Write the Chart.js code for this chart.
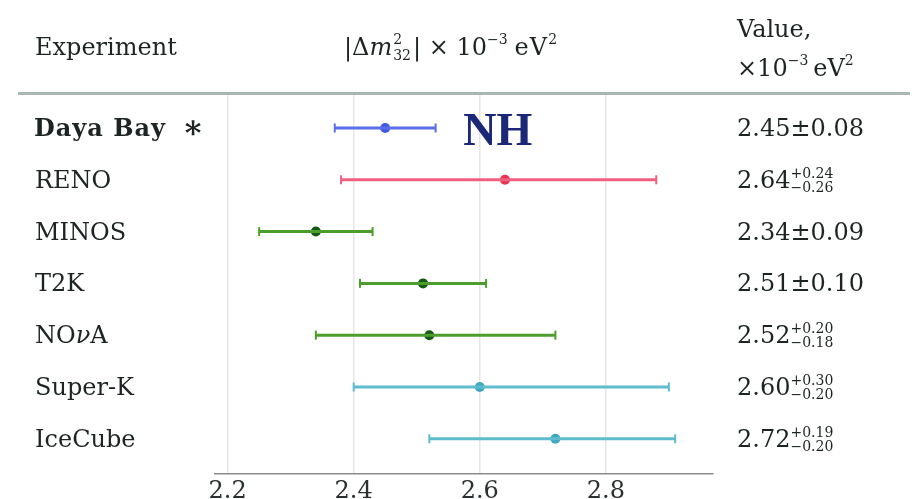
<!DOCTYPE html>
<html>
<head>
<meta charset="utf-8">
<script src="https://cdn.jsdelivr.net/npm/chart.js@4.4.1/dist/chart.umd.min.js"></script>
<style>
  html, body { margin: 0; padding: 0; background: #ffffff; }
  #wrap { width: 915px; height: 499px; position: relative; }
</style>
</head>
<body>
<div id="wrap"><canvas id="c" width="915" height="499"></canvas></div>
<script>
// Measurements of |Δm²32| (×10⁻³ eV²)
const experiments = ['Daya Bay', 'RENO', 'MINOS', 'T2K', 'NOνA', 'Super-K', 'IceCube'];
const central  = [2.45, 2.64, 2.34, 2.51, 2.52, 2.60, 2.72];
const errPlus  = [0.08, 0.24, 0.09, 0.10, 0.20, 0.30, 0.19];
const errMinus = [0.08, 0.26, 0.09, 0.10, 0.18, 0.20, 0.20];
const symmetric = [true, false, true, true, false, false, false];
const xTicks = [2.2, 2.4, 2.6, 2.8];

const lineColors = ['#5a6ee8', '#ef5f80', '#4c9e2c', '#4c9e2c', '#4c9e2c', '#5fbccc', '#5fbccc'];
const dotColors  = ['#3f58e4', '#e8344f', '#135a12', '#135a12', '#135a12', '#3fa7bf', '#3fa7bf'];

const SERIF = '"DejaVu Serif", "Liberation Serif", serif';
const TEXT = '#1e2424';

// one dataset per error bar: a segment from low to high with vertical caps
const barSets = experiments.map((name, i) => ({
  type: 'scatter',
  label: name,
  data: [{ x: central[i] - errMinus[i], y: i }, { x: central[i] + errPlus[i], y: i }],
  showLine: true,
  borderColor: lineColors[i],
  borderWidth: 3,
  pointStyle: 'line',
  rotation: 90,
  pointRadius: 4.5,
  pointBorderWidth: 2,
  pointBorderColor: lineColors[i],
  pointBackgroundColor: lineColors[i]
}));

const centreSet = {
  type: 'scatter',
  label: 'central',
  data: central.map((v, i) => ({ x: v, y: i })),
  pointRadius: 5,
  pointBorderWidth: 0,
  pointBackgroundColor: dotColors,
  pointBorderColor: dotColors
};

function fmt(v) { return v.toFixed(2); }

// draws a list of text runs left to right; each run may carry its own font and vertical shift
function drawRuns(ctx, x, y, runs) {
  let cx = x;
  for (const r of runs) {
    ctx.letterSpacing = r.spacing || '0px';
    ctx.font = r.font;
    if (r.stack) {
      const w1 = ctx.measureText(r.sup).width;
      const w2 = ctx.measureText(r.sub).width;
      ctx.fillText(r.sup, cx, y + r.supDy);
      ctx.fillText(r.sub, cx, y + r.subDy);
      cx += Math.max(w1, w2) + (r.gap || 0);
    } else {
      ctx.fillText(r.t, cx, y + (r.dy || 0));
      cx += ctx.measureText(r.t).width + (r.gap || 0);
    }
  }
  ctx.letterSpacing = '0px';
  return cx;
}

const tablePlugin = {
  id: 'table',
  afterDraw(chart) {
    const ctx = chart.ctx;
    const xs = chart.scales.x, ys = chart.scales.y;
    ctx.save();
    ctx.fillStyle = TEXT;
    ctx.textBaseline = 'alphabetic';
    ctx.textAlign = 'left';

    const big = '24px ' + SERIF;
    const small = '14px ' + SERIF;
    const italic = 'italic 24px ' + SERIF;

    // header
    drawRuns(ctx, 35, 55, [{ t: 'Experiment', font: big }]);
    drawRuns(ctx, 344, 55, [
      { t: '|Δ', font: big },
      { t: 'm', font: italic, gap: 1 },
      { stack: true, font: small, sup: '2', sub: '32', supDy: -11, subDy: 5, gap: 2 },
      { t: '| × 10', font: big },
      { t: '−3', font: small, dy: -11, gap: 7 },
      { t: 'eV', font: big, spacing: '1px' },
      { t: '2', font: small, dy: -11 }
    ]);
    drawRuns(ctx, 737, 37, [{ t: 'Value,', font: big }]);
    drawRuns(ctx, 737, 76, [
      { t: '×10', font: big },
      { t: '−3', font: small, dy: -11, gap: 5 },
      { t: 'eV', font: big },
      { t: '2', font: small, dy: -11 }
    ]);

    // header rule
    ctx.strokeStyle = '#a9b6b2';
    ctx.lineWidth = 3;
    ctx.beginPath();
    ctx.moveTo(18, 93.5);
    ctx.lineTo(910, 93.5);
    ctx.stroke();

    // rows: experiment names and quoted values
    experiments.forEach((name, i) => {
      const y = ys.getPixelForValue(i);
      const base = y + 8;
      ctx.fillStyle = TEXT;
      if (i === 0) {
        const end = drawRuns(ctx, 34, base, [{ t: name, font: 'bold 24px ' + SERIF, spacing: '1px' }]);
        drawRuns(ctx, end + 16, base + 2, [{ t: '∗', font: 'bold 32px ' + SERIF }]);
      } else if (name.includes('ν')) {
        const parts = name.split('ν');
        drawRuns(ctx, 35, base, [
          { t: parts[0], font: big },
          { t: 'ν', font: italic },
          { t: parts[1], font: big }
        ]);
      } else {
        drawRuns(ctx, 35, base, [{ t: name, font: big }]);
      }

      if (symmetric[i]) {
        drawRuns(ctx, 737, base, [{ t: fmt(central[i]) + '±' + fmt(errPlus[i]), font: big }]);
      } else {
        drawRuns(ctx, 737, base, [
          { t: fmt(central[i]), font: big },
          { stack: true, font: small, sup: '+' + fmt(errPlus[i]), sub: '−' + fmt(errMinus[i]), supDy: -10, subDy: 4 }
        ]);
      }
    });

    // hierarchy tag next to the first measurement
    ctx.fillStyle = '#1b2777';
    ctx.font = 'bold 46px "Liberation Serif", serif';
    ctx.fillText('NH', xs.getPixelForValue(2.574), ys.getPixelForValue(0) + 17);
    ctx.restore();
  }
};

new Chart(document.getElementById('c'), {
  type: 'scatter',
  data: { datasets: [...barSets, centreSet] },
  options: {
    responsive: false,
    animation: false,
    events: [],
    layout: { padding: { left: 215, right: 202, top: 95, bottom: 0 } },
    plugins: { legend: { display: false }, tooltip: { enabled: false } },
    scales: {
      x: {
        type: 'linear',
        min: 2.18,
        max: 2.97,
        afterBuildTicks: s => { s.ticks = xTicks.map(v => ({ value: v })); },
        afterFit: s => { s.height = 25; },
        ticks: {
          callback: v => v.toFixed(1),
          font: { family: SERIF, size: 24 },
          color: '#2a2f2f',
          padding: 3,
          maxRotation: 0
        },
        grid: { color: '#e6e6e6', lineWidth: 1.5, drawTicks: false },
        border: { display: true, color: '#8c8c8c', width: 1.5 }
      },
      y: {
        type: 'linear',
        reverse: true,
        min: -0.637,
        max: 6.68,
        display: false
      }
    }
  },
  plugins: [tablePlugin]
});
</script>
</body>
</html>
